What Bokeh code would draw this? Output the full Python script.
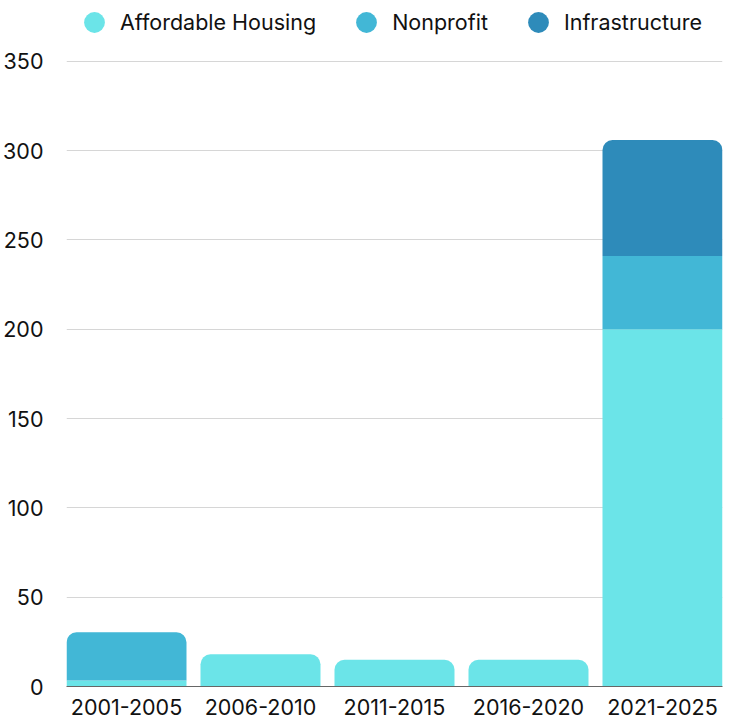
from bokeh.plotting import figure
from bokeh.layouts import column
from bokeh.models import ColumnDataSource, Range1d, FixedTicker, Legend, LegendItem
from bokeh.embed import file_html
from bokeh.resources import INLINE

categories = ["2001-2005", "2006-2010", "2011-2015", "2016-2020", "2021-2025"]
series_names = ["Affordable Housing", "Nonprofit", "Infrastructure"]
affordable = [3.4, 18, 15, 15, 200]
nonprofit = [27, 0, 0, 0, 41]
infrastructure = [0, 0, 0, 0, 65]
y_ticks = [0, 50, 100, 150, 200, 250, 300, 350]

colors = ["#6BE4E8", "#42B7D6", "#2E8BBA"]
FONT = "Inter"
FS = "21.5px"

bw = 0.8955
xs = list(range(len(categories)))

p = figure(x_range=Range1d(-bw / 2, len(categories) - 1 + bw / 2), y_range=Range1d(0, 350.5),
           frame_width=656, frame_height=626, output_backend="svg", toolbar_location=None,
           min_border_left=66, min_border_right=5, min_border_top=14, min_border_bottom=4)

series = [affordable, nonprofit, infrastructure]
top_idx = []
for i in range(len(categories)):
    t = 0
    for s in range(len(series)):
        if series[s][i] > 0:
            t = s
    top_idx.append(t)

cum = [0.0] * len(categories)
for s, vals in enumerate(series):
    rows_top = dict(x=[], bottom=[], top=[])
    rows_mid = dict(x=[], bottom=[], top=[])
    for i in xs:
        v = vals[i]
        if v > 0:
            d = rows_top if top_idx[i] == s else rows_mid
            d["x"].append(i)
            d["bottom"].append(cum[i])
            d["top"].append(cum[i] + v)
        cum[i] += v
    if rows_mid["x"]:
        p.vbar(x="x", bottom="bottom", top="top", width=bw, source=ColumnDataSource(rows_mid),
               fill_color=colors[s], line_color=None)
    if rows_top["x"]:
        p.vbar(x="x", bottom="bottom", top="top", width=bw, source=ColumnDataSource(rows_top),
               fill_color=colors[s], line_color=None, border_radius=(10, 10, 0, 0))

p.yaxis.ticker = FixedTicker(ticks=y_ticks)
p.yaxis.axis_line_color = None
p.yaxis.major_tick_line_color = None
p.yaxis.minor_tick_line_color = None
p.yaxis.major_label_text_font = FONT
p.yaxis.major_label_text_font_size = FS
p.yaxis.major_label_text_color = "#111111"
p.yaxis.major_label_standoff = 17

p.xaxis.ticker = FixedTicker(ticks=xs)
p.xaxis.major_label_overrides = {i: c for i, c in enumerate(categories)}
p.xaxis.axis_line_color = "#666666"
p.xaxis.major_tick_line_color = None
p.xaxis.minor_tick_line_color = None
p.xaxis.major_label_text_font = FONT
p.xaxis.major_label_text_font_size = FS
p.xaxis.major_label_text_color = "#111111"
p.xaxis.major_label_standoff = 6

p.xgrid.grid_line_color = None
p.ygrid.grid_line_color = "#D6D6D6"
p.outline_line_color = None

# legend strip (frames of a column are aligned with the chart's frame)
LH = 46
lf = figure(width=722, height=LH, x_range=Range1d(0, 1), y_range=Range1d(0, 1),
            x_axis_location=None, y_axis_location=None,
            output_backend="svg", toolbar_location=None,
            min_border=0, outline_line_color=None)
lf.grid.visible = False
items = []
for s in range(len(series)):
    r = lf.scatter(x=[float("nan")], y=[float("nan")], marker="circle", size=18,
                   fill_color=colors[s], line_color=None)
    items.append(LegendItem(label=series_names[s], renderers=[r]))
legend = Legend(items=items, orientation="horizontal", location=(2, -2),
                label_text_font=FONT, label_text_font_size=FS, label_text_color="#111111",
                border_line_color=None, background_fill_alpha=0,
                glyph_width=52, glyph_height=52, label_standoff=-11, spacing=24,
                padding=0, margin=0)
lf.add_layout(legend, "center")

layout = column(lf, p, spacing=0)
open("out.html", "w").write(file_html(layout, INLINE))
